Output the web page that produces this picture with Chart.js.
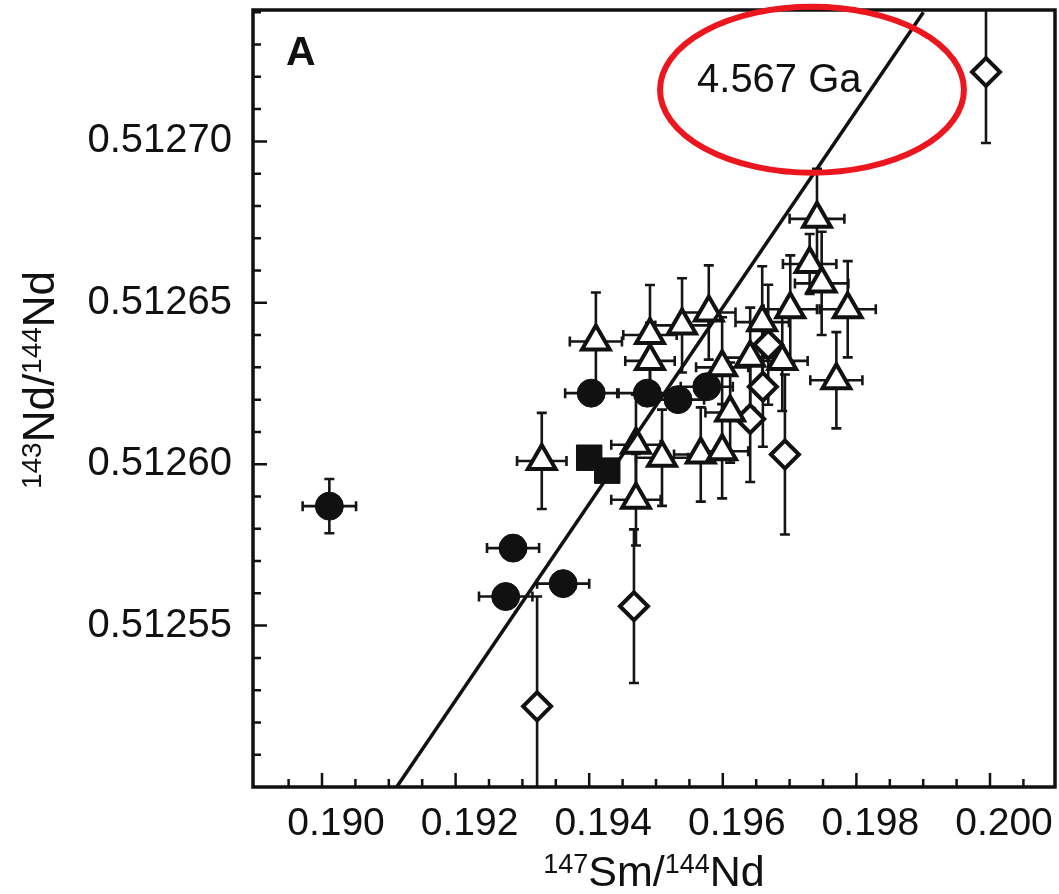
<!DOCTYPE html>
<html><head><meta charset="utf-8">
<script src="https://cdn.jsdelivr.net/npm/chart.js@4.4.1/dist/chart.umd.min.js"></script>
<style>html,body{margin:0;padding:0;background:#fff;}#c{display:block;}</style>
</head><body>
<canvas id="c" width="1059" height="894"></canvas>
<script>
// ---------- data ----------
// open triangles
const triX    = [0.19741,0.19730,0.19748,0.19787,0.19701,0.19770,0.19579,0.19539,0.19491,0.19491,0.19410,0.19659,0.19641,0.19689,0.19599,0.19611,0.19329,0.19470,0.19509,0.19567,0.19599,0.19470];
const triY    = [0.512676,0.512662,0.512656,0.512648,0.512648,0.512626,0.512647,0.512643,0.512640,0.512632,0.512638,0.512644,0.512633,0.512632,0.512630,0.512616,0.512601,0.512606,0.512602,0.512603,0.512604,0.512589];
const triXErr = [0.00041,0.00040,0.00040,0.00042,0.00040,0.00039,0.00040,0.00040,0.00040,0.00037,0.00039,0.00040,0.00039,0.00038,0.00039,0.00037,0.00037,0.00037,0.00039,0.00040,0.00039,0.00037];
const triYErr = [0.0000155,0.0000093,0.0000160,0.0000149,0.0000167,0.0000149,0.0000146,0.0000146,0.0000155,0.0000118,0.0000152,0.0000173,0.0000155,0.0000155,0.0000155,0.0000155,0.0000149,0.0000155,0.0000149,0.0000146,0.0000146,0.0000142];
// filled circles
const cirX    = [0.19011,0.19403,0.19487,0.19533,0.19576,0.19286,0.19275,0.19361];
const cirY    = [0.512587,0.512622,0.512622,0.512620,0.512624,0.512574,0.512559,0.512563];
const cirXErr = [0.00040,0.00039,0.00043,0.00039,0.00039,0.00039,0.00040,0.00039];
const cirYErr = [0.0000084,0,0,0,0,0,0,0];
// filled squares
const sqX = [0.19400,0.19427];
const sqY = [0.512602,0.512598];
// open diamonds
const diaX    = [0.19994,0.19668,0.19660,0.19641,0.19693,0.19467,0.19322];
const diaY    = [0.5127215,0.512637,0.512624,0.512614,0.512603,0.512556,0.512525];
const diaYErr = [0.000022,0.0000186,0.0000186,0.0000195,0.0000248,0.0000238,0.000034];
// 4.567 Ga reference isochron (end points)
const isoX = [0.191118,0.199003];
const isoY = [0.51250,0.51274];
// tick labels
const xTickLabels = ['0.190','0.192','0.194','0.196','0.198','0.200'];
const yTickLabels = ['0.51255','0.51260','0.51265','0.51270'];
// annotation
const annText = '4.567 Ga';
const annPos = [0.195614, 0.5127153];
const ellCenter = [0.197335, 0.512716];
const ellRadius = [0.002275, 0.0000257];
const panelLabel = 'A';

// ---------- helpers ----------
const FONT = '"Liberation Sans", Arial, Helvetica, sans-serif';
const pts = (xs, ys) => xs.map((x, i) => ({x: x, y: ys[i]}));
const xTickValues = [];
for (let k = 379; k <= 401; k++) xTickValues.push(+(k * 0.0005).toFixed(4));
const yTickValues = [];
for (let k = 51251; k <= 51274; k++) yTickValues.push(+(k * 0.00001).toFixed(5));

const errorSets = [
  {xs: triX, ys: triY, xe: triXErr, ye: triYErr},
  {xs: cirX, ys: cirY, xe: cirXErr, ye: cirYErr},
  {xs: diaX, ys: diaY, xe: diaX.map(() => 0), ye: diaYErr}
];

function drawRich(ctx, parts, x, y, align) {
  let w = 0;
  parts.forEach(p => { ctx.font = p.font; w += ctx.measureText(p.t).width; });
  let cx = align === 'center' ? x - w / 2 : x;
  ctx.textAlign = 'left';
  ctx.textBaseline = 'alphabetic';
  parts.forEach(p => {
    ctx.font = p.font;
    ctx.fillText(p.t, cx, y + (p.dy || 0));
    cx += ctx.measureText(p.t).width;
  });
}

function noPad(s) { s.paddingTop = 0; s.paddingBottom = 0; s.paddingLeft = 0; s.paddingRight = 0; }

const decor = {
  id: 'decor',
  beforeDatasetsDraw(chart) {
    const {ctx, chartArea: a} = chart;
    const sx = chart.scales.x, sy = chart.scales.y;
    ctx.save();
    ctx.beginPath();
    ctx.rect(a.left, a.top, a.right - a.left, a.bottom - a.top);
    ctx.clip();
    ctx.strokeStyle = '#151515';
    ctx.lineWidth = 2.6;
    const cap = 5;
    errorSets.forEach(s => {
      s.xs.forEach((xv, i) => {
        const px = sx.getPixelForValue(xv), py = sy.getPixelForValue(s.ys[i]);
        ctx.beginPath();
        if (s.xe[i] > 0) {
          const x1 = sx.getPixelForValue(xv - s.xe[i]), x2 = sx.getPixelForValue(xv + s.xe[i]);
          ctx.moveTo(x1, py); ctx.lineTo(x2, py);
          ctx.moveTo(x1, py - cap); ctx.lineTo(x1, py + cap);
          ctx.moveTo(x2, py - cap); ctx.lineTo(x2, py + cap);
        }
        if (s.ye[i] > 0) {
          const y1 = sy.getPixelForValue(s.ys[i] - s.ye[i]), y2 = sy.getPixelForValue(s.ys[i] + s.ye[i]);
          ctx.moveTo(px, y1); ctx.lineTo(px, y2);
          ctx.moveTo(px - cap, y1); ctx.lineTo(px + cap, y1);
          ctx.moveTo(px - cap, y2); ctx.lineTo(px + cap, y2);
        }
        ctx.stroke();
      });
    });
    ctx.restore();
  },
  afterDatasetsDraw(chart) {
    const {ctx, chartArea: a} = chart;
    const sx = chart.scales.x, sy = chart.scales.y;
    ctx.save();
    // ticks (inward)
    ctx.strokeStyle = '#111';
    ctx.lineWidth = 2.5;
    ctx.beginPath();
    sx.ticks.forEach(t => {
      const p = sx.getPixelForValue(t.value);
      const major = Math.round(t.value * 2000) % 4 === 0;
      const len = major ? 14 : 8;
      ctx.moveTo(p, a.bottom); ctx.lineTo(p, a.bottom - len);
    });
    sy.ticks.forEach(t => {
      const p = sy.getPixelForValue(t.value);
      const major = Math.round(t.value * 100000) % 5 === 0;
      const len = major ? 14 : 8;
      ctx.moveTo(a.left, p); ctx.lineTo(a.left + len, p);
    });
    ctx.stroke();
    // frame
    ctx.lineWidth = 3.5;
    ctx.strokeStyle = '#111';
    ctx.strokeRect(a.left, a.top, a.right - a.left, a.bottom - a.top);
    // panel label
    ctx.fillStyle = '#111';
    ctx.font = 'bold 41px ' + FONT;
    ctx.textAlign = 'left';
    ctx.textBaseline = 'alphabetic';
    ctx.fillText(panelLabel, a.left + 33, a.top + 55);
    // annotation text
    ctx.font = '40px ' + FONT;
    ctx.fillText(annText, sx.getPixelForValue(annPos[0]), sy.getPixelForValue(annPos[1]));
    // red ellipse
    const ecx = sx.getPixelForValue(ellCenter[0]), ecy = sy.getPixelForValue(ellCenter[1]);
    const erx = sx.getPixelForValue(ellCenter[0] + ellRadius[0]) - ecx;
    const ery = ecy - sy.getPixelForValue(ellCenter[1] + ellRadius[1]);
    ctx.beginPath();
    ctx.ellipse(ecx, ecy, erx, ery, 0, 0, Math.PI * 2);
    ctx.strokeStyle = 'rgb(236,22,30)';
    ctx.lineWidth = 6;
    ctx.stroke();
    ctx.restore();
  },
  afterDraw(chart) {
    const {ctx, chartArea: a} = chart;
    ctx.save();
    ctx.fillStyle = '#111';
    const big = '43px ' + FONT, sup = '27px ' + FONT;
    drawRich(ctx, [
      {t: '147', font: sup, dy: -13}, {t: 'Sm/', font: big},
      {t: '144', font: sup, dy: -13}, {t: 'Nd', font: big}
    ], (a.left + a.right) / 2, 886, 'center');
    ctx.translate(54, 380);
    ctx.rotate(-Math.PI / 2);
    const bigY = '44px ' + FONT, supY = '28px ' + FONT;
    drawRich(ctx, [
      {t: '143', font: supY, dy: -13}, {t: 'Nd/', font: bigY},
      {t: '144', font: supY, dy: -13}, {t: 'Nd', font: bigY}
    ], 0, 0, 'center');
    ctx.restore();
  }
};

new Chart(document.getElementById('c'), {
  type: 'scatter',
  data: {
    datasets: [
      {label: '4.567 Ga', type: 'line', data: pts(isoX, isoY), borderColor: '#111', borderWidth: 3.5,
       pointRadius: 0, fill: false, showLine: true, order: 0},
      {label: 'circles', data: pts(cirX, cirY), pointStyle: 'circle', pointRadius: 14,
       backgroundColor: '#111', borderColor: '#111', borderWidth: 1, order: 1},
      {label: 'squares', data: pts(sqX, sqY), pointStyle: 'rect', pointRadius: 18,
       backgroundColor: '#111', borderColor: '#111', borderWidth: 1, order: 1},
      {label: 'triangles', data: pts(triX, triY), pointStyle: 'triangle', pointRadius: 16,
       backgroundColor: '#fff', borderColor: '#111', borderWidth: 4, order: 2},
      {label: 'diamonds', data: pts(diaX, diaY), pointStyle: 'rectRot', pointRadius: 14,
       backgroundColor: '#fff', borderColor: '#111', borderWidth: 4, order: 2}
    ]
  },
  options: {
    responsive: false, animation: false, devicePixelRatio: 1,
    layout: {autoPadding: false, padding: {left: 0, right: 4, top: 10, bottom: 0}},
    plugins: {legend: {display: false}, tooltip: {enabled: false}},
    scales: {
      x: {
        type: 'linear', min: 0.188967, max: 0.200973,
        afterFit: s => { s.height = 107; noPad(s); },
        afterBuildTicks: s => { s.ticks = xTickValues.map(v => ({value: v})); },
        grid: {display: false, drawTicks: false}, border: {display: false},
        ticks: {
          autoSkip: false, maxRotation: 0, minRotation: 0, padding: 14, labelOffset: 14,
          color: '#111', font: {family: FONT, size: 39},
          callback: v => xTickLabels.find(l => Math.abs(parseFloat(l) - v) < 1e-7) || ''
        }
      },
      y: {
        type: 'linear', min: 0.5125, max: 0.5127407,
        afterFit: s => { s.width = 253; noPad(s); },
        afterBuildTicks: s => { s.ticks = yTickValues.map(v => ({value: v})); },
        grid: {display: false, drawTicks: false}, border: {display: false},
        ticks: {
          autoSkip: false, padding: 21,
          color: '#111', font: {family: FONT, size: 40},
          callback: v => yTickLabels.find(l => Math.abs(parseFloat(l) - v) < 1e-9) || ''
        }
      }
    }
  },
  plugins: [decor]
});
</script>
</body></html>
